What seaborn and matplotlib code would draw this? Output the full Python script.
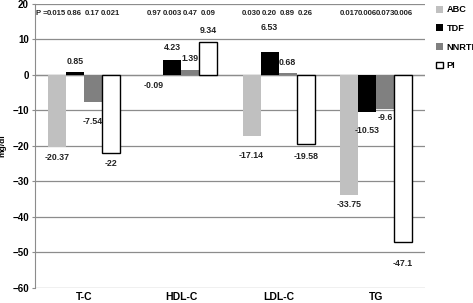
import pandas as pd
import seaborn as sns
import matplotlib.pyplot as plt

# valores (mg/dl)
categorias = ["T-C", "HDL-C", "LDL-C", "TG"]
grupos = ["ABC", "TDF", "NNRTI", "PI"]
abc = [-20.37, -0.09, -17.14, -33.75]
tdf = [0.85, 4.23, 6.53, -10.53]
nnrti = [-7.54, 1.39, 0.68, -9.6]
pi = [-22, 9.34, -19.58, -47.1]
etiquetas = {
    "ABC": ["-20.37", "-0.09", "-17.14", "-33.75"],
    "TDF": ["0.85", "4.23", "6.53", "-10.53"],
    "NNRTI": ["-7.54", "1.39", "0.68", "-9.6"],
    "PI": ["-22", "9.34", "-19.58", "-47.1"],
}
p_valores = {
    "ABC": ["0.015", "0.97", "0.030", "0.017"],
    "TDF": ["0.86", "0.003", "0.20", "0.006"],
    "NNRTI": ["0.17", "0.47", "0.89", "0.073"],
    "PI": ["0.021", "0.09", "0.26", "0.006"],
}
# desplazamiento vertical de cada etiqueta (px) respecto al extremo de la barra
desplaz = {
    "ABC": [-10, -10, -20, -10],
    "TDF": [10, 12, 24, -18],
    "NNRTI": [-20, 11, 10, -9],
    "PI": [-11, 11, -12, -21],
}

colores = {"ABC": "#c0c0c0", "TDF": "#000000", "NNRTI": "#808080", "PI": "#ffffff"}
fuente = ["Liberation Sans", "DejaVu Sans"]

if __name__ == "__main__":
    data = pd.DataFrame({
        "categoria": categorias * 4,
        "grupo": [g for g in grupos for _ in categorias],
        "valor": abc + tdf + nnrti + pi,
    })

    plt.rcParams["font.family"] = fuente
    fig, ax = plt.subplots(figsize=(4.73, 3.03), dpi=100)
    fig.subplots_adjust(left=0.074, right=0.898, top=0.987, bottom=0.05)

    sns.barplot(data=data, x="categoria", y="valor", hue="grupo", order=categorias,
                hue_order=grupos, palette=colores, width=0.74, ax=ax,
                edgecolor="black", linewidth=0, saturation=1, errorbar=None)

    for cont, g in zip(ax.containers, grupos):
        for b, lab, dy, p in zip(cont, etiquetas[g], desplaz[g], p_valores[g]):
            if g == "PI":
                b.set_edgecolor("black")
                b.set_linewidth(1.0)
            xc = b.get_x() + b.get_width() / 2
            yend = b.get_y() + b.get_height()
            ax.annotate(lab, (xc, yend), xytext=(0, dy), textcoords="offset pixels",
                        ha="center", va="center", fontsize=6.3, fontweight="bold",
                        color="#222222")
            ax.text(xc, 17.3, p, ha="center", va="center",
                    fontsize=5.6, fontweight="bold", color="#222222")
    b0 = ax.containers[0][0]
    ax.text(b0.get_x() - 0.005, 17.3, "P =", ha="right", va="center",
            fontsize=5.6, fontweight="bold", color="#222222")

    ax.set_ylim(-60, 20)
    ax.set_yticks(range(-60, 21, 10))
    ax.set_xlim(-0.5, 3.5)
    ax.yaxis.grid(True, color="#8c8c8c", linewidth=0.9)
    ax.set_axisbelow(True)
    ax.axhline(0, color="#8c8c8c", linewidth=0.9, zorder=0.5)
    for s in ["top", "right", "bottom"]:
        ax.spines[s].set_visible(False)
    ax.spines["left"].set_color("#8c8c8c")
    ax.tick_params(axis="x", length=0, labelsize=7.5, pad=3)
    ax.tick_params(axis="y", length=2.5, color="#8c8c8c", labelsize=7, pad=2)
    for t in ax.get_xticklabels() + ax.get_yticklabels():
        t.set_fontweight("bold")
    ax.set_xlabel("")
    ax.set_ylabel("mg/dl", fontsize=6, fontweight="bold", labelpad=4)

    leg = ax.legend(bbox_to_anchor=(1.03, 0.995), loc="upper left", frameon=False,
                    borderpad=0, borderaxespad=0,
                    handlelength=0.75, handleheight=0.75, handletextpad=0.35,
                    labelspacing=1.05, prop={"size": 6.6, "weight": "bold"})
    leg.legend_handles[3].set_edgecolor("black")
    leg.legend_handles[3].set_linewidth(1.0)

    plt.savefig("out.png", dpi=100)
